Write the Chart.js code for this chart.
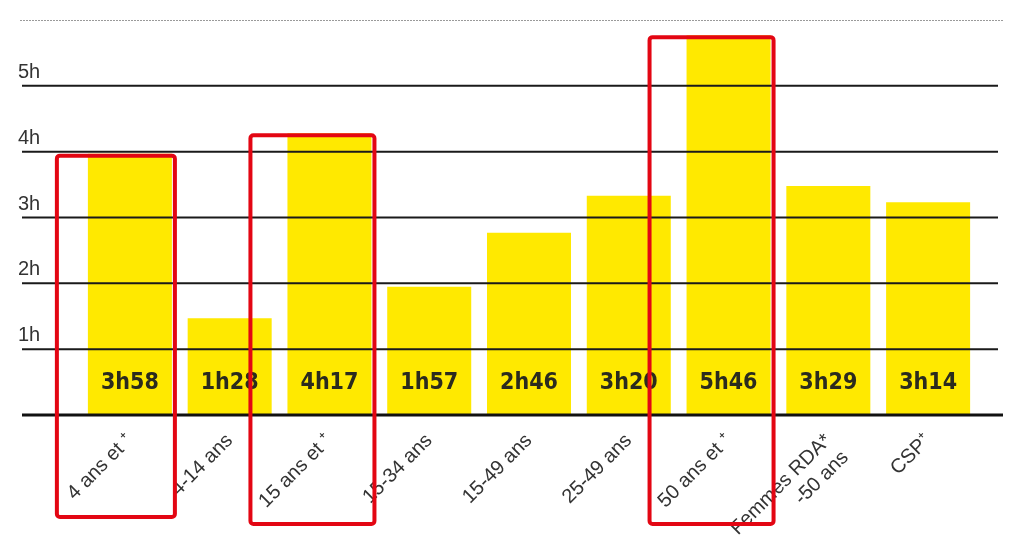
<!DOCTYPE html>
<html>
<head>
<meta charset="utf-8">
<script src="https://cdn.jsdelivr.net/npm/chart.js@4"></script>
<style>
  html, body { margin: 0; padding: 0; background: #fff; }
  canvas { display: block; }
</style>
</head>
<body>
<canvas id="chart" width="1024" height="547"></canvas>
<script>
// data
const categories = ["4 ans et \u207A", "4-14 ans", "15 ans et \u207A", "15-34 ans", "15-49 ans", "25-49 ans", "50 ans et \u207A", ["Femmes RDA*", "-50 ans"], "CSP\u207A"];
const durations = ["3h58", "1h28", "4h17", "1h57", "2h46", "3h20", "5h46", "3h29", "3h14"];
const hours = [3.97, 1.47, 4.28, 1.95, 2.77, 3.33, 5.77, 3.48, 3.23];
const hourTicks = [1, 2, 3, 4, 5];
const topLine = 6;
const highlighted = [0, 2, 6];

const gridLeft = 22;
const gridRight = 998;

const overlay = {
  id: "overlay",
  afterDatasetsDraw(chart) {
    const { ctx, scales: { x, y } } = chart;
    const meta = chart.getDatasetMeta(0);
    ctx.save();

    // dashed top rule
    ctx.strokeStyle = "#9a9a9a";
    ctx.lineWidth = 1;
    ctx.setLineDash([2, 1]);
    ctx.beginPath();
    ctx.moveTo(20, y.getPixelForValue(topLine) + 0.5);
    ctx.lineTo(1004, y.getPixelForValue(topLine) + 0.5);
    ctx.stroke();
    ctx.setLineDash([]);

    // hour lines + labels
    ctx.strokeStyle = "#1a1a1a";
    ctx.lineWidth = 2;
    ctx.fillStyle = "#333";
    ctx.font = "300 20px 'Liberation Sans', sans-serif";
    ctx.textAlign = "left";
    ctx.textBaseline = "alphabetic";
    hourTicks.forEach((h) => {
      const py = y.getPixelForValue(h);
      ctx.beginPath();
      ctx.moveTo(gridLeft, py);
      ctx.lineTo(gridRight, py);
      ctx.stroke();
      ctx.fillText(h + "h", 18, py - 8);
    });

    // baseline
    ctx.strokeStyle = "#111";
    ctx.lineWidth = 3;
    ctx.beginPath();
    ctx.moveTo(gridLeft, y.getPixelForValue(0));
    ctx.lineTo(1003, y.getPixelForValue(0));
    ctx.stroke();

    // values inside bars
    ctx.fillStyle = "#2b2b1e";
    ctx.font = "bold 23px 'DejaVu Sans Condensed', 'DejaVu Sans', sans-serif";
    ctx.textAlign = "center";
    ctx.textBaseline = "middle";
    meta.data.forEach((bar, i) => {
      ctx.fillText(durations[i], bar.x, y.getPixelForValue(0) - 32);
    });

    // red highlight frames
    ctx.strokeStyle = "#e30613";
    ctx.lineWidth = 4;
    ctx.lineJoin = "round";
    const drops = [102, 109, 109];
    const leftPads = [31, 37, 37];
    highlighted.forEach((i, k) => {
      const bar = meta.data[i];
      const l = bar.x - bar.width / 2 - leftPads[k];
      const r = bar.x + bar.width / 2 + 3;
      const t = bar.y + 2;
      const b = y.getPixelForValue(0) + drops[k];
      ctx.beginPath();
      ctx.roundRect(l, t, r - l, b - t, 3);
      ctx.stroke();
    });

    ctx.restore();
  }
};

new Chart(document.getElementById("chart"), {
  type: "bar",
  data: {
    labels: categories,
    datasets: [{
      data: hours,
      backgroundColor: "#ffe900",
      borderWidth: 0,
      barPercentage: 0.842,
      categoryPercentage: 1
    }]
  },
  options: {
    responsive: false,
    animation: false,
    layout: { padding: { left: 80, right: 46, top: 20, bottom: 0 } },
    plugins: { legend: { display: false }, tooltip: { enabled: false } },
    scales: {
      y: { min: 0, max: topLine, display: false },
      x: {
        grid: { display: false },
        border: { display: false },
        ticks: {
          minRotation: 45,
          maxRotation: 45,
          padding: 6,
          color: "#333",
          font: { family: "'Liberation Sans', sans-serif", size: 20 }
        },
        afterFit(scale) { scale.height = 132; }
      }
    }
  },
  plugins: [overlay]
});
</script>
</body>
</html>
